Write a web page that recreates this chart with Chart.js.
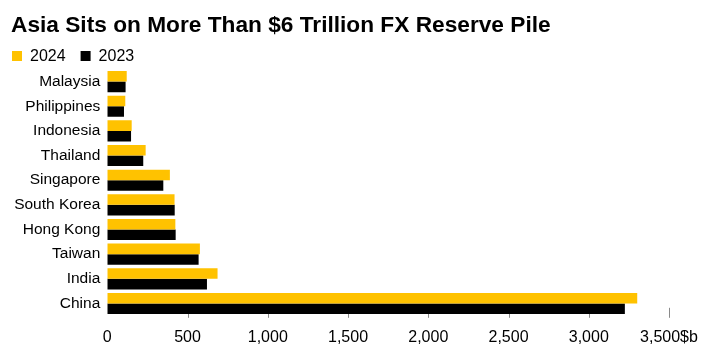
<!DOCTYPE html>
<html>
<head>
<meta charset="utf-8">
<script src="https://cdn.jsdelivr.net/npm/chart.js@4/dist/chart.umd.min.js"></script>
<style>
  html, body { margin: 0; padding: 0; background: #ffffff; }
  #wrap { width: 712px; height: 355px; }
</style>
</head>
<body>
<div id="wrap"><canvas id="c" width="712" height="355"></canvas></div>
<script>
const categories = ['Malaysia', 'Philippines', 'Indonesia', 'Thailand', 'Singapore', 'South Korea', 'Hong Kong', 'Taiwan', 'India', 'China'];
const reserves2024 = [121, 112, 152, 239, 390, 419, 424, 577, 687, 3302];
const reserves2023 = [114, 104, 148, 224, 349, 420, 426, 569, 621, 3225];
const xTickLabels = ['0', '500', '1,000', '1,500', '2,000', '2,500', '3,000', '3,500$b'];
const seriesLabels = ['2024', '2023'];
const seriesColors = ['#FFC200', '#000000'];

const FONT = '"Liberation Sans", Arial, sans-serif';

const customLegend = {
  id: 'customLegend',
  afterDraw(chart) {
    const ctx = chart.ctx;
    ctx.save();
    ctx.font = '16px ' + FONT;
    ctx.textBaseline = 'middle';
    ctx.textAlign = 'left';
    let x = 12;
    const y = 56;
    chart.data.datasets.forEach(ds => {
      ctx.fillStyle = ds.backgroundColor;
      ctx.fillRect(x, y - 5, 10, 10);
      ctx.fillStyle = '#000000';
      ctx.fillText(ds.label, x + 18, y + 0.5);
      x += 18 + ctx.measureText(ds.label).width + 15;
    });
    ctx.restore();
  }
};

const tickMarks = {
  id: 'tickMarks',
  beforeDatasetsDraw(chart) {
    const ctx = chart.ctx;
    const xs = chart.scales.x;
    const bottom = chart.chartArea.bottom;
    ctx.save();
    ctx.strokeStyle = '#8a8a8a';
    ctx.lineWidth = 1;
    xs.ticks.forEach(t => {
      if (t.value === 0) return;
      const px = Math.round(xs.getPixelForValue(t.value)) + 0.5;
      ctx.beginPath();
      ctx.moveTo(px, bottom - 8);
      ctx.lineTo(px, bottom + 2);
      ctx.stroke();
    });
    ctx.restore();
  }
};

new Chart(document.getElementById('c'), {
  type: 'bar',
  data: {
    labels: categories,
    datasets: [
      { label: seriesLabels[0], data: reserves2024, backgroundColor: seriesColors[0], borderWidth: 0 },
      { label: seriesLabels[1], data: reserves2023, backgroundColor: seriesColors[1], borderWidth: 0 }
    ]
  },
  options: {
    indexAxis: 'y',
    responsive: false,
    devicePixelRatio: 1,
    animation: false,
    categoryPercentage: 0.857,
    barPercentage: 1.0,
    layout: { padding: { left: 11, right: 43, top: 0, bottom: -4 } },
    plugins: {
      legend: { display: false },
      tooltip: { enabled: false },
      title: {
        display: true,
        text: 'Asia Sits on More Than $6 Trillion FX Reserve Pile',
        align: 'start',
        color: '#000000',
        font: { family: FONT, size: 22.7, weight: 'bold', lineHeight: 1.2 },
        padding: { top: 12, bottom: 30 }
      }
    },
    scales: {
      x: {
        type: 'linear',
        min: 0,
        max: 3500,
        grid: { display: false, drawTicks: false },
        border: { display: false },
        ticks: {
          stepSize: 500,
          padding: 12,
          color: '#000000',
          maxRotation: 0,
          autoSkip: false,
          font: { family: FONT, size: 16 },
          callback: (v, i) => xTickLabels[i]
        }
      },
      y: {
        grid: { display: false, drawTicks: false },
        border: { display: false },
        afterFit: s => { s.width = 96.3; },
        ticks: {
          padding: 7,
          color: '#000000',
          font: { family: FONT, size: 15.5 }
        }
      }
    }
  },
  plugins: [customLegend, tickMarks]
});
</script>
</body>
</html>
